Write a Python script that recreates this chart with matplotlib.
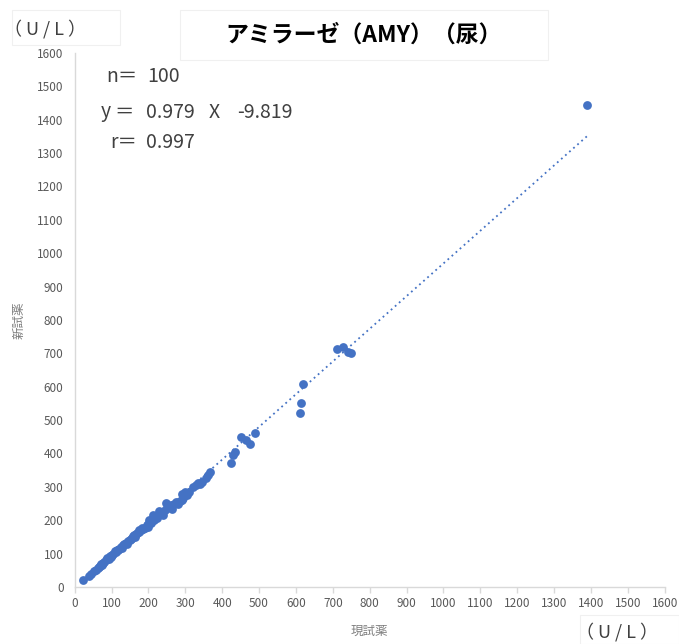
import matplotlib
matplotlib.use("Agg")
import matplotlib.pyplot as plt
from matplotlib.patches import Rectangle
import numpy as np

plt.rcParams["font.family"] = ["Noto Sans CJK JP", "DejaVu Sans"]

# 現試薬 (x) / 新試薬 (y)
current = [22, 38, 45, 52, 58, 62, 65, 70, 75, 78, 80, 85, 88, 92, 95, 98,
           100, 105, 110, 112, 115, 120, 125, 128, 130, 135, 140, 142, 145,
           150, 152, 155, 158, 160, 163, 165, 170, 175, 180, 185, 190, 195,
           198, 200, 202, 205, 208, 210, 212, 215, 220, 222, 225, 228, 230,
           235, 240, 245, 255, 260, 265, 270, 275, 280, 285, 290, 292, 295,
           300, 305, 310, 330, 335, 340, 345, 355, 362, 368, 425, 428, 435,
           450, 465, 475, 488, 612, 614, 620, 712, 728, 740, 750, 1390,
           175, 250, 320, 118, 68, 248, 182]
new = [20, 32, 40, 48, 52, 58, 60, 68, 65, 72, 75, 80, 88, 85, 92, 90,
       95, 100, 108, 105, 112, 115, 120, 118, 125, 128, 132, 130, 138,
       140, 145, 148, 152, 155, 150, 160, 162, 165, 172, 175, 178, 185,
       180, 190, 200, 195, 192, 205, 215, 200, 210, 208, 215, 228, 220,
       225, 215, 230, 240, 245, 235, 250, 255, 250, 258, 262, 280, 268,
       285, 275, 285, 305, 312, 308, 315, 325, 335, 345, 372, 395, 405,
       448, 440, 428, 460, 522, 552, 608, 712, 718, 705, 700, 1445,
       170, 238, 300, 112, 64, 252, 176]

slope, intercept = 0.979, -9.819

blue = "#4472C4"
gray = "#595959"
W, H = 679, 644


def px(x, y):
    # 画素座標 -> figure 座標
    return x / W, 1 - y / H


fig = plt.figure(figsize=(6.79, 6.44), dpi=100)
ax = fig.add_axes([0.110, 0.0885, 0.869, 0.8295])

ax.scatter(current, new, s=40, color=blue, zorder=3, linewidths=0)

xl = np.array([min(current), max(current)])
ax.plot(xl, slope * xl + intercept, color=blue, linestyle=(0, (1, 2)),
        linewidth=1.3, zorder=2)

ax.set_xlim(0, 1600)
ax.set_ylim(0, 1600)
ax.set_xticks(np.arange(0, 1601, 100))
ax.set_yticks(np.arange(0, 1601, 100))

for side in ["top", "right"]:
    ax.spines[side].set_visible(False)
ax.spines[["left", "bottom"]].set_color("#D9D9D9")
ax.spines[["left", "bottom"]].set_linewidth(1.0)

ax.tick_params(axis="x", direction="out", length=4, width=1,
               color="#D9D9D9", labelcolor=gray, labelsize=8.5, pad=3)
ax.tick_params(axis="y", length=0, labelcolor=gray, labelsize=8.5, pad=8)

ax.set_xlabel("現試薬", fontsize=9, color="#7F7F7F", labelpad=11)
ax.set_ylabel("新試薬", fontsize=9, color="#7F7F7F", labelpad=8)

# 注記（回帰式）
note_kw = dict(fontsize=14, color="#404040", va="center", ha="left")
fig.text(*px(106, 77), "n＝", **note_kw)
fig.text(*px(147, 77), "100", **note_kw)
fig.text(*px(101, 112), "y", **note_kw)
fig.text(*px(114, 112), "＝", **note_kw)
fig.text(*px(146, 112), "0.979", **note_kw)
fig.text(*px(209, 112), "X", **note_kw)
fig.text(*px(237, 112), "-9.819", **note_kw)
fig.text(*px(110, 142), "r＝", **note_kw)
fig.text(*px(146, 142), "0.997", **note_kw)

# タイトル・単位の枠
fig.patches.append(Rectangle(px(180, 60), 368 / W, 50 / H,
                             transform=fig.transFigure, facecolor="white",
                             edgecolor="#F0F0F0", linewidth=0.8))
fig.text(*px(364, 35), "アミラーゼ（AMY）（尿）", fontsize=16.5,
         fontweight="bold", ha="center", va="center", color="black")

unit = "（ U / L ）"
fig.patches.append(Rectangle(px(12, 45), 108 / W, 35 / H,
                             transform=fig.transFigure, facecolor="white",
                             edgecolor="#F0F0F0", linewidth=0.8))
fig.text(*px(45, 29), unit, fontsize=13, ha="center",
         va="center", color="#404040")

fig.patches.append(Rectangle(px(580, 644), 99 / W, 29 / H,
                             transform=fig.transFigure, facecolor="white",
                             edgecolor="#F0F0F0", linewidth=0.8))
fig.text(*px(617, 632), unit, fontsize=13, ha="center",
         va="center", color="#404040")

fig.savefig("out.png", dpi=100)
